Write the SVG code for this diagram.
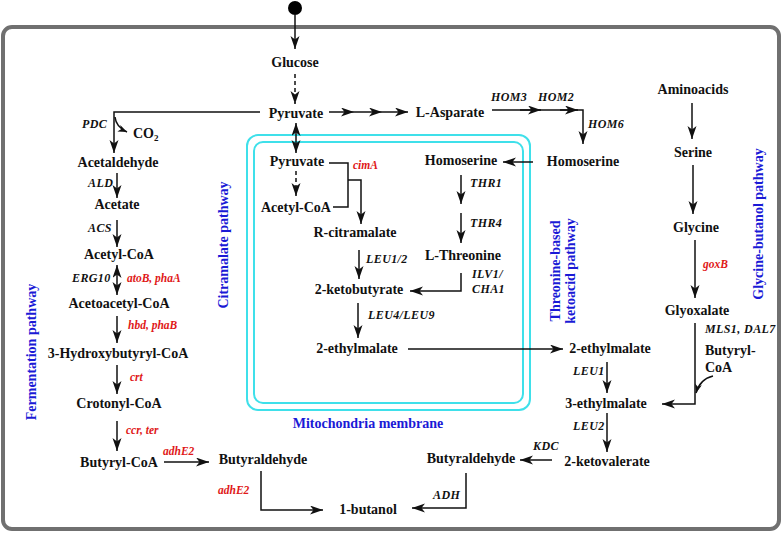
<svg xmlns="http://www.w3.org/2000/svg" width="784" height="533" viewBox="0 0 784 533">
<style>
text{font-family:"Liberation Serif","Times New Roman",serif;font-weight:bold}
.n{font-size:14px;fill:#111;text-anchor:middle}
.ns{font-size:14px;fill:#111}
.e{font-size:12px;font-style:italic;fill:#111;letter-spacing:0.4px}
.r{font-size:11.5px;font-style:italic;fill:#e01818}
.b{font-size:14px;fill:#1a1ad6;text-anchor:middle}
.c{fill:none;stroke:#111;stroke-width:1.5}
.d{stroke-dasharray:4,3}
.m{fill:none;stroke:#3fe0ea;stroke-width:2}
</style>
<defs>
<marker id="ah" markerUnits="userSpaceOnUse" markerWidth="14" markerHeight="10" refX="13" refY="4.5" orient="auto-start-reverse">
<path d="M0,0 L13,4.5 L0,9 L3.5,4.5 z" fill="#111"/>
</marker>
<marker id="as" markerUnits="userSpaceOnUse" markerWidth="10" markerHeight="8" refX="9" refY="3.5" orient="auto">
<path d="M0,0 L9,3.5 L0,7 L2.5,3.5 z" fill="#111"/>
</marker>
</defs>
<rect x="3" y="27" width="776" height="502" rx="9" fill="#fff" stroke="#707070" stroke-width="4"/>
<g id="membrane">
<rect x="247" y="135" width="283" height="275" rx="11" class="m"/>
<rect x="254" y="142" width="269" height="261" rx="9" class="m"/>
<text x="368" y="428" class="b">Mitochondria membrane</text>
</g>
<g id="labels">
<text class="b" transform="translate(228,245) rotate(-90)">Citramalate pathway</text>
<text class="b" transform="translate(36,352) rotate(-90)">Fermentation pathway</text>
<text class="b" transform="translate(560,271) rotate(-90)">Threonine-based</text>
<text class="b" transform="translate(575,271) rotate(-90)">ketoacid pathway</text>
<text class="b" transform="translate(763,224) rotate(-90)">Glycine-butanol pathway</text>
</g>
<g id="start"><circle cx="295" cy="8" r="7" fill="#000"/></g>
<g id="glucose"><text x="295" y="67" class="n">Glucose</text></g>
<g id="pyruvate"><text x="296" y="118" class="n">Pyruvate</text></g>
<g id="lasparate"><text x="450" y="117" class="n">L-Asparate</text></g>
<g id="homoserine-out"><text x="583" y="166" class="n">Homoserine</text></g>
<g id="aminoacids"><text x="693" y="94" class="n">Aminoacids</text></g>
<g id="serine"><text x="693" y="157" class="n">Serine</text></g>
<g id="glycine"><text x="696" y="232" class="n">Glycine</text></g>
<g id="glyoxalate"><text x="697" y="315" class="n">Glyoxalate</text></g>
<g id="butyrylcoa-r"><text x="705" y="355" class="ns">Butyryl-</text><text x="705" y="372" class="ns">CoA</text></g>
<g id="acetaldehyde"><text x="118" y="167" class="n">Acetaldehyde</text></g>
<g id="co2"><text x="133" y="138" class="ns">CO<tspan dy="3" font-size="9">2</tspan></text></g>
<g id="acetate"><text x="117" y="209" class="n">Acetate</text></g>
<g id="acetylcoa"><text x="119" y="259" class="n">Acetyl-CoA</text></g>
<g id="acetoacetylcoa"><text x="119" y="308" class="n">Acetoacetyl-CoA</text></g>
<g id="hydroxybutyrylcoa"><text x="118" y="358" class="n">3-Hydroxybutyryl-CoA</text></g>
<g id="crotonylcoa"><text x="119" y="408" class="n">Crotonyl-CoA</text></g>
<g id="butyrylcoa"><text x="119" y="467" class="n">Butyryl-CoA</text></g>
<g id="butyraldehyde-l"><text x="263" y="464" class="n">Butyraldehyde</text></g>
<g id="butanol"><text x="368" y="514" class="n">1-butanol</text></g>
<g id="butyraldehyde-r"><text x="471" y="463" class="n">Butyraldehyde</text></g>
<g id="ketovalerate"><text x="607" y="466" class="n">2-ketovalerate</text></g>
<g id="ethylmalate3"><text x="606" y="408" class="n">3-ethylmalate</text></g>
<g id="ethylmalate2-r"><text x="610" y="353" class="n">2-ethylmalate</text></g>
<g id="pyruvate-in"><text x="297" y="166" class="n">Pyruvate</text></g>
<g id="acetylcoa-in"><text x="296" y="212" class="n">Acetyl-CoA</text></g>
<g id="rcitramalate"><text x="355" y="237" class="n">R-citramalate</text></g>
<g id="ketobutyrate"><text x="359" y="294" class="n">2-ketobutyrate</text></g>
<g id="ethylmalate2-in"><text x="357" y="353" class="n">2-ethylmalate</text></g>
<g id="homoserine-in"><text x="461" y="165" class="n">Homoserine</text></g>
<g id="lthreonine"><text x="463" y="260" class="n">L-Threonine</text></g>
<g id="enzymes">
<text x="82" y="128" class="e">PDC</text>
<text x="88" y="187" class="e">ALD</text>
<text x="88" y="232" class="e">ACS</text>
<text x="72" y="282" class="e">ERG10</text>
<text x="127" y="282" class="r">atoB, phaA</text>
<text x="128" y="329" class="r">hbd, phaB</text>
<text x="130" y="381" class="r">crt</text>
<text x="126" y="434" class="r">ccr, ter</text>
<text x="163" y="455" class="r">adhE2</text>
<text x="218" y="494" class="r">adhE2</text>
<text x="491" y="101" class="e">HOM3</text>
<text x="538" y="101" class="e">HOM2</text>
<text x="588" y="128" class="e">HOM6</text>
<text x="353" y="169" class="r">cimA</text>
<text x="470" y="187" class="e">THR1</text>
<text x="470" y="227" class="e">THR4</text>
<text x="366" y="263" class="e">LEU1/2</text>
<text x="472" y="278" class="e">ILV1/</text>
<text x="472" y="293" class="e">CHA1</text>
<text x="368" y="319" class="e">LEU4/LEU9</text>
<text x="573" y="375" class="e">LEU1</text>
<text x="573" y="430" class="e">LEU2</text>
<text x="533" y="450" class="e">KDC</text>
<text x="433" y="499" class="e">ADH</text>
<text x="703" y="268" class="r">goxB</text>
<text x="705" y="333" class="e">MLS1, DAL7</text>
</g>
<g id="connectors">
<path class="c" d="M295,15 V49" marker-end="url(#ah)"/>
<path class="c d" d="M295,74 V104" marker-end="url(#ah)"/>
<path class="c" d="M329,112 H354" marker-end="url(#ah)"/>
<path class="c" d="M354,112 H382" marker-end="url(#ah)"/>
<path class="c" d="M382,112 H408" marker-end="url(#ah)"/>
<path class="c" d="M296,123 V153" marker-start="url(#ah)" marker-end="url(#ah)"/>
<path class="c" d="M260,112 H114 V153" marker-end="url(#ah)"/>
<path class="c" d="M115,117 Q116,127 127,132" marker-end="url(#as)"/>
<path class="c" d="M117,173 V198" marker-end="url(#ah)"/>
<path class="c" d="M117,220 V247" marker-end="url(#ah)"/>
<path class="c" d="M117,265 V295" marker-start="url(#ah)" marker-end="url(#ah)"/>
<path class="c" d="M117,316 V343" marker-end="url(#ah)"/>
<path class="c" d="M117,365 V394" marker-end="url(#ah)"/>
<path class="c" d="M117,421 V451" marker-end="url(#ah)"/>
<path class="c" d="M164,462 H209" marker-end="url(#ah)"/>
<path class="c" d="M261,471 V510 H323" marker-end="url(#ah)"/>
<path class="c" d="M492,110 H583 V144" marker-end="url(#ah)"/>
<path class="c" d="M520,110 H541" marker-end="url(#ah)"/>
<path class="c" d="M560,110 H578" marker-end="url(#ah)"/>
<path class="c" d="M533,162 H503" marker-end="url(#ah)"/>
<path class="c d" d="M296,171 V196" marker-end="url(#ah)"/>
<path class="c" d="M329,163 H348 V207 H333"/>
<path class="c" d="M348,180 H361 V224" marker-end="url(#ah)"/>
<path class="c" d="M359,250 V279" marker-end="url(#ah)"/>
<path class="c" d="M461,175 V204" marker-end="url(#ah)"/>
<path class="c" d="M461,213 V243" marker-end="url(#ah)"/>
<path class="c" d="M461,273 V291 H410" marker-end="url(#ah)"/>
<path class="c" d="M358,303 V338" marker-end="url(#ah)"/>
<path class="c" d="M408,349 H563" marker-end="url(#ah)"/>
<path class="c" d="M607,362 V393" marker-end="url(#ah)"/>
<path class="c" d="M607,413 V452" marker-end="url(#ah)"/>
<path class="c" d="M552,460 H520" marker-end="url(#ah)"/>
<path class="c" d="M466,473 V508 H412" marker-end="url(#ah)"/>
<path class="c" d="M692,103 V139" marker-end="url(#ah)"/>
<path class="c" d="M693,165 V214" marker-end="url(#ah)"/>
<path class="c" d="M695,240 V298" marker-end="url(#ah)"/>
<path class="c" d="M695,323 V404 H662" marker-end="url(#ah)"/>
<path class="c" d="M713,376 Q700,379 696,393" marker-end="url(#as)"/>
</g>
</svg>
